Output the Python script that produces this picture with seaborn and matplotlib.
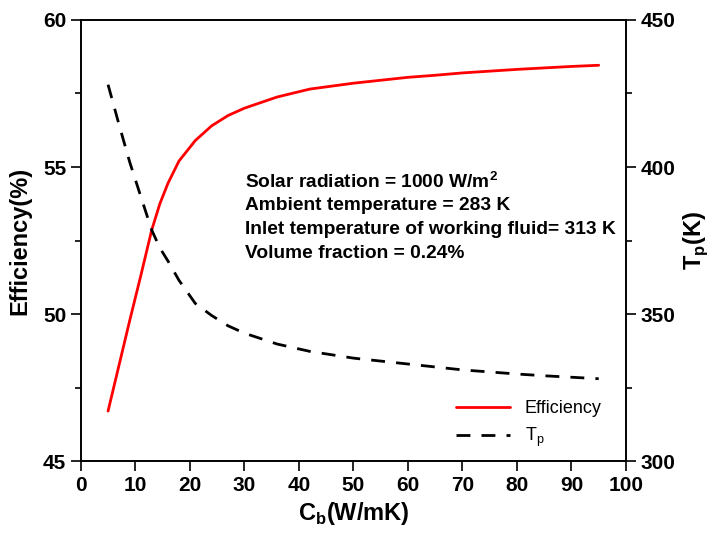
import matplotlib
matplotlib.use("Agg")
import matplotlib.pyplot as plt
import seaborn as sns
import pandas as pd
from matplotlib.ticker import MultipleLocator
from matplotlib.lines import Line2D

cb = [5, 7, 9, 11, 13, 14.5, 16, 18, 21, 24, 27, 30, 36, 42, 50, 55, 60, 65,
      70, 75, 80, 85, 90, 95]
efficiency = [46.7, 48.25, 49.8, 51.3, 52.85, 53.75, 54.45, 55.2, 55.9, 56.4,
              56.75, 57.0, 57.38, 57.65, 57.85, 57.95, 58.05, 58.12, 58.2,
              58.26, 58.32, 58.37, 58.42, 58.46]
tp = [428, 414.5, 401.5, 390, 378.6, 372.5, 368, 361.5, 353.6, 349.5, 346,
      343.5, 339.8, 337.3, 335, 334, 333, 332, 331, 330.3, 329.6, 329, 328.5,
      328]
notes = ["Solar radiation = 1000 W/m$^{\\mathbf{2}}$",
         "Ambient temperature = 283 K",
         "Inlet temperature of working fluid= 313 K",
         "Volume fraction = 0.24%"]

df = pd.DataFrame({"cb": cb, "eff": efficiency, "tp": tp})

sns.set_style("white")
plt.rcParams["font.family"] = ["Liberation Sans", "DejaVu Sans"]
plt.rcParams["mathtext.fontset"] = "custom"
plt.rcParams["mathtext.rm"] = "Liberation Sans"
plt.rcParams["mathtext.bf"] = "Liberation Sans:bold"
plt.rcParams["text.color"] = "black"
plt.rcParams["axes.labelcolor"] = "black"
plt.rcParams["xtick.color"] = "black"
plt.rcParams["ytick.color"] = "black"

fig = plt.figure(figsize=(7.15, 5.33), dpi=100)
ax = fig.add_axes([0.113, 0.135, 0.7625, 0.8275])
ax2 = ax.twinx()

sns.lineplot(data=df, x="cb", y="eff", ax=ax, color="#ff0000", lw=2)
sns.lineplot(data=df, x="cb", y="tp", ax=ax2, color="black", lw=2,
             linestyle=(0, (5, 4)))

ax.set_xlim(0, 100)
ax.set_ylim(45, 60)
ax2.set_ylim(300, 450)
ax.xaxis.set_major_locator(MultipleLocator(10))
ax.yaxis.set_major_locator(MultipleLocator(5))
ax.yaxis.set_minor_locator(MultipleLocator(2.5))
ax2.yaxis.set_major_locator(MultipleLocator(50))
ax2.yaxis.set_minor_locator(MultipleLocator(25))

for a in (ax, ax2):
    for s in a.spines.values():
        s.set_color("black")
        s.set_linewidth(1.2)
    a.tick_params(axis="both", which="major", direction="out", length=7,
                  width=1.2, labelsize=15, color="black", labelcolor="black")
    a.tick_params(axis="both", which="minor", direction="out", length=4,
                  width=1.2, color="black")
    for lab in a.get_xticklabels() + a.get_yticklabels():
        lab.set_fontweight("bold")
ax.tick_params(axis="x", which="both", bottom=True, top=False)
ax.tick_params(axis="y", which="both", left=True, right=False)
ax2.tick_params(axis="y", which="both", right=True, left=False)

ax.set_xlabel("C$_{\\mathbf{b}}$(W/mK)", fontsize=17, fontweight="bold", color="black")
ax.set_ylabel("Efficiency(%)", fontsize=17, fontweight="bold", labelpad=8, color="black")
ax2.set_ylabel("T$_{\\mathbf{p}}$(K)", fontsize=17, fontweight="bold", labelpad=4, color="black")

for i, t in enumerate(notes):
    ax.text(0.301, 0.633 - i * 0.0545, t, transform=ax.transAxes,
            fontsize=13.8, fontweight="bold", va="center", ha="left", color="black")

handles = [Line2D([], [], color="#ff0000", lw=2),
           Line2D([], [], color="black", lw=2, linestyle=(0, (5, 4)))]
leg = ax.legend(handles, ["Efficiency", "T$_{\\mathrm{p}}$"], loc="lower right",
                bbox_to_anchor=(0.985, -0.01), frameon=False, fontsize=13,
                handlelength=3, labelspacing=0.5)
for t in leg.get_texts():
    t.set_color("black")

fig.savefig("out.png", dpi=100)
